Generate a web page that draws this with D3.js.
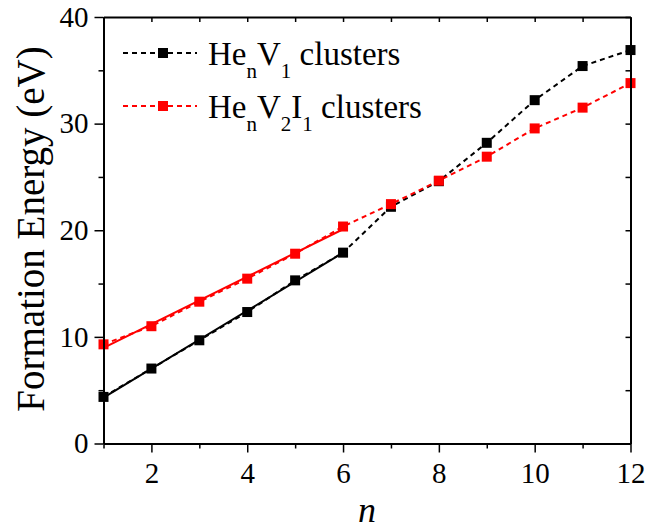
<!DOCTYPE html>
<html>
<head>
<meta charset="utf-8">
<script src="https://cdn.jsdelivr.net/npm/d3@7"></script>
<style>
  body { margin: 0; background: #fff; }
  svg { display: block; font-family: "Liberation Serif", "Times New Roman", serif; }
</style>
</head>
<body>
<div id="chart"></div>
<script>
// Formation energy of He clusters

const nValues = [1, 2, 3, 4, 5, 6, 7, 8, 9, 10, 11, 12];
const heV1 = [4.37, 7.03, 9.68, 12.33, 15.3, 17.9, 22.2, 24.6, 28.2, 32.2, 35.4, 36.9];
const heV2I1 = [9.3, 11.0, 13.3, 15.46, 17.8, 20.35, 22.45, 24.65, 26.9, 29.55, 31.5, 33.8];
const fitCount = 6; // solid linear fit over n = 1..6
const xTicks = [2, 4, 6, 8, 10, 12];
const xMinor = [1, 3, 5, 7, 9, 11];
const yTicks = [0, 10, 20, 30, 40];
const yMinor = [5, 15, 25, 35];

const series = [
    { name: 'V1', values: heV1, color: '#000000' },
    { name: 'V2I1', values: heV2I1, color: '#ff0000' }
];

function drawChart() {
    const W = 649, H = 530;
    const margin = { top: 17, right: 18.5, bottom: 86.5, left: 103.5 };
    const width = W - margin.left - margin.right;
    const height = H - margin.top - margin.bottom;

    const svg = d3.select('#chart').append('svg')
        .attr('width', W)
        .attr('height', H);

    const g = svg.append('g')
        .attr('transform', `translate(${margin.left},${margin.top})`);

    const x = d3.scaleLinear().domain([1, 12]).range([0, width]);
    const y = d3.scaleLinear().domain([0, 40]).range([height, 0]);

    // Lines
    const line = d3.line()
        .x((d, i) => x(nValues[i]))
        .y(d => y(d));

    series.forEach(s => {
        g.append('path')
            .datum(s.values)
            .attr('fill', 'none')
            .attr('stroke', s.color)
            .attr('stroke-width', 2)
            .attr('stroke-dasharray', '5,4')
            .attr('d', line);

        // linear fit over the first points
        const xs = nValues.slice(0, fitCount);
        const ys = s.values.slice(0, fitCount);
        const mx = d3.mean(xs), my = d3.mean(ys);
        const slope = d3.sum(xs, (v, i) => (v - mx) * (ys[i] - my)) / d3.sum(xs, v => (v - mx) * (v - mx));
        const icpt = my - slope * mx;
        g.append('line')
            .attr('x1', x(xs[0]))
            .attr('y1', y(icpt + slope * xs[0]))
            .attr('x2', x(xs[xs.length - 1]))
            .attr('y2', y(icpt + slope * xs[xs.length - 1]))
            .attr('stroke', s.color)
            .attr('stroke-width', 2);
    });

    // Markers
    series.forEach(s => {
        g.selectAll(null)
            .data(s.values)
            .enter()
            .append('rect')
            .attr('x', (d, i) => x(nValues[i]) - 5)
            .attr('y', d => y(d) - 5)
            .attr('width', 10)
            .attr('height', 10)
            .attr('fill', s.color);
    });

    // Axes
    const styleAxis = sel => {
        sel.attr('font-family', 'Liberation Serif').attr('font-size', 29);
        sel.select('.domain').attr('stroke', '#000').attr('stroke-width', 2);
        sel.selectAll('.tick line').attr('stroke', '#000').attr('stroke-width', 1.5);
        sel.selectAll('.tick text').attr('fill', '#000');
    };

    g.append('g')
        .attr('transform', `translate(0,${height})`)
        .call(d3.axisBottom(x).tickValues(xTicks).tickSize(9).tickPadding(10).tickSizeOuter(0).tickFormat(d3.format('d')))
        .call(styleAxis);
    g.append('g')
        .attr('transform', `translate(0,${height})`)
        .call(d3.axisBottom(x).tickValues(xMinor).tickSize(5).tickSizeOuter(0).tickFormat(''))
        .call(styleAxis);

    g.append('g')
        .call(d3.axisLeft(y).tickValues(yTicks).tickSize(9).tickPadding(6).tickSizeOuter(0).tickFormat(d3.format('d')))
        .call(styleAxis);
    g.append('g')
        .call(d3.axisLeft(y).tickValues(yMinor).tickSize(5).tickSizeOuter(0).tickFormat(''))
        .call(styleAxis);

    // Mirror axes (top / right), ticks inward
    g.append('g')
        .call(d3.axisTop(x).tickValues(xTicks.concat(xMinor)).tickSize(-5).tickSizeOuter(0).tickFormat(''))
        .call(styleAxis);
    g.append('g')
        .attr('transform', `translate(${width},0)`)
        .call(d3.axisRight(y).tickValues(yTicks.concat(yMinor)).tickSize(-5).tickSizeOuter(0).tickFormat(''))
        .call(styleAxis);

    // Axis titles
    svg.append('text')
        .attr('transform', 'rotate(-90)')
        .attr('x', -229)
        .attr('y', 44)
        .attr('text-anchor', 'middle')
        .attr('fill', '#000')
        .style('font-size', '39px')
        .text('Formation Energy (eV)');

    svg.append('text')
        .attr('x', margin.left + width / 2)
        .attr('y', 522)
        .attr('text-anchor', 'middle')
        .attr('fill', '#000')
        .style('font-size', '36px')
        .style('font-style', 'italic')
        .text('n');

    // Legend
    const legendRows = [
        { s: series[0], parts: [['He', 0], ['n', 1], ['V', 0], ['1', 1], [' clusters', 0]] },
        { s: series[1], parts: [['He', 0], ['n', 1], ['V', 0], ['2', 1], ['I', 0], ['1', 1], [' clusters', 0]] }
    ];

    const legend = svg.append('g').attr('transform', 'translate(123,53)');
    legendRows.forEach((row, i) => {
        const ly = i * 53;
        legend.append('line')
            .attr('x1', 0).attr('x2', 74)
            .attr('y1', ly).attr('y2', ly)
            .attr('stroke', row.s.color)
            .attr('stroke-width', 2)
            .attr('stroke-dasharray', '5,4');
        legend.append('rect')
            .attr('x', 35).attr('y', ly - 5)
            .attr('width', 10).attr('height', 10)
            .attr('fill', row.s.color);
        const t = legend.append('text')
            .attr('x', 85)
            .attr('y', ly + 12)
            .attr('fill', '#000')
            .style('font-size', '33px')
            .attr('xml:space', 'preserve');
        let sub = false;
        row.parts.forEach(([txt, isSub]) => {
            const ts = t.append('tspan').text(txt);
            if (isSub && !sub) { ts.attr('dy', 13).style('font-size', '21px'); sub = true; }
            else if (isSub && sub) { ts.style('font-size', '21px'); }
            else if (!isSub && sub) { ts.attr('dy', -13); sub = false; }
        });
    });
}

drawChart();
</script>
</body>
</html>
